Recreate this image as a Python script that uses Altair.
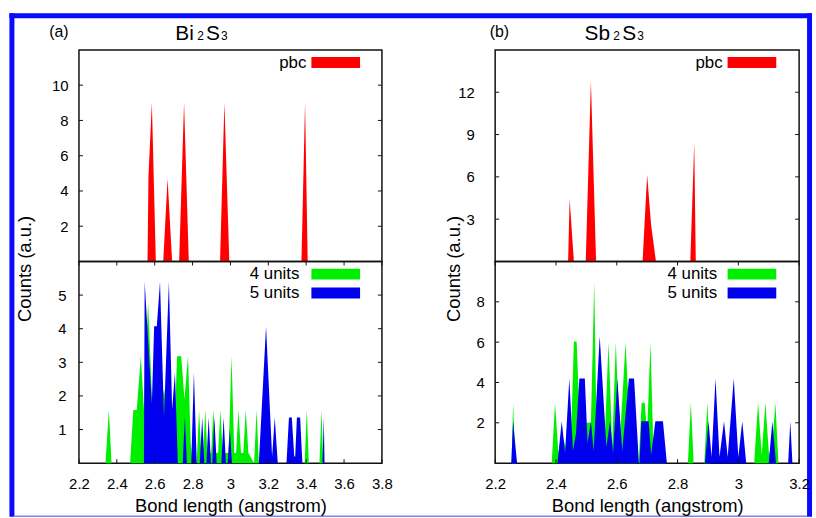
import altair as alt
import pandas as pd

# ---------------- data ----------------
# panel (a) Bi2S3, pbc (top)
pbc_a_x = [2.562, 2.567, 2.585, 2.606, 2.645, 2.668, 2.692, 2.729, 2.755, 2.780,
           2.945, 2.968, 2.994, 3.375, 3.394, 3.408]
pbc_a_y = [0, 4.8, 9.0, 0, 0, 4.7, 0, 0, 9.0, 0, 0, 9.0, 0, 0, 9.0, 0]

# panel (a) 4 units (green)
g_a_x = [2.340, 2.358, 2.372,
         2.470, 2.487, 2.505, 2.527, 2.543, 2.565, 2.586, 2.600, 2.620, 2.650, 2.665,
         2.690, 2.705, 2.718, 2.740, 2.757, 2.776, 2.790, 2.800,
         2.822, 2.834, 2.846, 2.856, 2.867, 2.878, 2.898, 2.910, 2.922,
         2.935, 2.947, 2.959, 2.990, 3.006, 3.020, 3.030, 3.042, 3.056,
         3.068, 3.081, 3.095, 3.125, 3.138, 3.150,
         3.392, 3.403, 3.414, 3.470, 3.481, 3.490]
g_a_y = [0, 1.58, 0,
         0, 1.58, 1.58, 3.18, 1.6, 4.78, 1.9, 2.5, 1.5, 2.2, 1.2,
         1.0, 1.0, 3.18, 3.18, 1.9, 3.18, 0.6, 0,
         0, 1.58, 0.3, 0.3, 1.58, 0.3, 0.3, 1.58, 0.3,
         0.3, 1.58, 0.3, 0.3, 3.18, 0.3, 0.3, 1.58, 0.3,
         0.3, 1.58, 0.3, 0, 1.58, 0,
         0, 1.58, 0, 0, 1.58, 0]

# panel (a) 5 units (blue)
b_a_x = [2.543, 2.547, 2.585, 2.597, 2.611, 2.628, 2.649, 2.675, 2.692, 2.707, 2.722,
         2.748, 2.759, 2.770, 2.793, 2.807, 2.822,
         2.838, 2.851, 2.862, 2.873, 2.885, 2.897, 2.904, 2.915, 2.927,
         2.952, 2.964, 2.976, 2.985, 2.997, 3.008,
         3.150, 3.188, 3.220, 3.234, 3.250,
         3.296, 3.309, 3.324, 3.337, 3.342, 3.351, 3.368, 3.380,
         3.486, 3.493, 3.497]
b_a_y = [0, 5.4, 1.76, 4.07, 4.07, 5.4, 1.37, 5.4, 1.6, 2.69, 0,
         0, 1.36, 0, 0, 2.69, 0,
         0, 1.36, 0, 0, 1.36, 0, 0, 1.36, 0,
         0, 1.36, 0, 0, 1.0, 0,
         0, 4.07, 0.2, 1.36, 0,
         0, 1.36, 1.36, 0.2, 0.2, 1.36, 1.36, 0,
         0, 1.36, 0]

# panel (b) Sb2S3, pbc (top)
pbc_b_x = [2.440, 2.445, 2.459, 2.498, 2.515, 2.532, 2.685, 2.700, 2.713, 2.729,
           2.842, 2.855, 2.860]
pbc_b_y = [0, 4.43, 0, 0, 12.8, 0, 0, 6.14, 2.6, 0, 0, 8.4, 0]

# panel (b) 4 units (green)
g_b_x = [2.254, 2.259, 2.266,
         2.386, 2.397, 2.408, 2.419, 2.432, 2.449, 2.459, 2.468, 2.476, 2.495, 2.515,
         2.526, 2.534, 2.548, 2.560, 2.573, 2.585, 2.597, 2.610, 2.629, 2.642, 2.660, 2.668,
         2.672, 2.682, 2.692, 2.700, 2.711, 2.720, 2.740, 2.760,
         2.834, 2.844, 2.853, 2.888, 2.898, 2.908,
         3.052, 3.065, 3.077, 3.089, 3.101, 3.112, 3.122, 3.132]
g_b_y = [0, 2.98, 0,
         0, 3.0, 0.5, 1.5, 0.8, 1.0, 6.03, 6.03, 3.0, 2.0, 2.0,
         9.0, 1.0, 2.0, 1.0, 6.0, 0.8, 6.0, 1.0, 6.0, 2.0, 1.5, 0,
         0, 3.0, 3.0, 1.5, 6.0, 1.0, 1.0, 0,
         0, 3.0, 0, 0, 3.0, 0,
         0, 3.0, 0.4, 3.0, 0.4, 1.0, 3.0, 0]

# panel (b) 5 units (blue)
b_b_x = [2.253, 2.259, 2.272,
         2.405, 2.419, 2.430, 2.444, 2.456, 2.466, 2.477, 2.495, 2.504, 2.515, 2.524,
         2.544, 2.566, 2.578, 2.588, 2.602, 2.618, 2.640, 2.657, 2.673,
         2.675, 2.681, 2.705, 2.713, 2.727, 2.752, 2.765,
         2.890, 2.902, 2.912, 2.925, 2.938, 2.953, 2.965, 2.985, 3.000, 3.013, 3.026,
         3.100, 3.112, 3.124, 3.164, 3.171, 3.178]
b_b_y = [0, 2.08, 0,
         0, 2.08, 0.5, 4.2, 0.6, 1.5, 4.2, 4.2, 1.0, 2.08, 0.6,
         6.29, 0.8, 2.08, 0.5, 4.2, 0.6, 4.2, 4.2, 0,
         0, 2.08, 2.08, 0.4, 2.08, 2.08, 0,
         0, 2.08, 0.3, 4.2, 0.3, 2.08, 0.3, 4.2, 0.3, 2.08, 0,
         0, 2.08, 0, 0, 2.08, 0]

# axes / ticks
x_ticks_a = [2.2, 2.4, 2.6, 2.8, 3.0, 3.2, 3.4, 3.6, 3.8]
x_ticks_b = [2.2, 2.4, 2.6, 2.8, 3.0, 3.2]
x_dom_a = [2.2, 3.8]
x_dom_b = [2.2, 3.2]
y_top_ticks_a = [2, 4, 6, 8, 10]
y_bot_ticks_a = [1, 2, 3, 4, 5]
y_top_ticks_b = [3, 6, 9, 12]
y_bot_ticks_b = [2, 4, 6, 8]
y_top_dom_a = [0, 12]
y_bot_dom_a = [0, 6]
y_top_dom_b = [0, 15]
y_bot_dom_b = [0, 10]

legend_top = ["pbc"]
legend_bot = ["4 units", "5 units"]
panel_tags = ["(a)", "(b)"]
compounds = [["Bi", "2", "S", "3"], ["Sb", "2", "S", "3"]]
x_title = "Bond length (angstrom)"
y_title = "Counts (a.u.)"

RED, GREEN, BLUE = "#ff0000", "#00ee00", "#0000ee"
FRAME = "#0a0aff"
FONT = "Liberation Sans"
W_A, W_B = 305, 306
H_TOP, H_BOT = 213, 203
TL = 4


def xy(xs, ys):
    return pd.DataFrame({"x": xs, "y": ys})


def one(text):
    return pd.DataFrame({"label": [text]})


def area(xs, ys, color, xsc, ysc, xaxis, yaxis):
    return alt.Chart(xy(xs, ys)).mark_area(
        color=color, interpolate="linear", orient="vertical", opacity=1
    ).encode(
        x=alt.X("x:Q", scale=xsc, axis=xaxis, title=None),
        y=alt.Y("y:Q", scale=ysc, axis=yaxis, stack=None, title=None),
    )


def tick_layers(xsc, ysc, xvals, yvals, W, H, xaxis, yaxis):
    out = []
    ydf = pd.DataFrame({"y": yvals})
    out.append(alt.Chart(ydf).mark_rule(color="#111", strokeWidth=1).encode(
        y=alt.Y("y:Q", scale=ysc, axis=yaxis, title=None), x=alt.value(0), x2=alt.value(TL)))
    out.append(alt.Chart(ydf).mark_rule(color="#111", strokeWidth=1).encode(
        y=alt.Y("y:Q", scale=ysc, axis=yaxis, title=None), x=alt.value(W), x2=alt.value(W - TL)))
    if xvals:
        xdf = pd.DataFrame({"x": xvals})
        out.append(alt.Chart(xdf).mark_rule(color="#111", strokeWidth=1).encode(
            x=alt.X("x:Q", scale=xsc, axis=xaxis, title=None), y=alt.value(H), y2=alt.value(H - TL)))
        out.append(alt.Chart(xdf).mark_rule(color="#111", strokeWidth=1).encode(
            x=alt.X("x:Q", scale=xsc, axis=xaxis, title=None), y=alt.value(0), y2=alt.value(TL)))
    return out


def legend(labels, colors, text_right):
    out = []
    for i, (lab, col) in enumerate(zip(labels, colors)):
        yc = 12.7 + 19 * i
        out.append(alt.Chart(one(lab)).mark_text(
            align="right", baseline="middle", font=FONT, fontSize=17, color="black"
        ).encode(text="label:N", x=alt.value(text_right), y=alt.value(yc)))
        out.append(alt.Chart(one(lab)).mark_rect(color=col).encode(
            x=alt.value(234), x2=alt.value(283), y=alt.value(yc - 5.5), y2=alt.value(yc + 5.5)))
    return out


def heading(tag, comp, tag_x, comp_xs):
    out = [alt.Chart(one(tag)).mark_text(
        align="left", baseline="alphabetic", font=FONT, fontSize=16, color="black"
    ).encode(text="label:N", x=alt.value(tag_x), y=alt.value(-13.5))]
    sizes = [21, 12, 21, 12]
    for part, px, fs in zip(comp, comp_xs, sizes):
        out.append(alt.Chart(one(part)).mark_text(
            align="left", baseline="alphabetic", font=FONT, fontSize=fs, color="black"
        ).encode(text="label:N", x=alt.value(px), y=alt.value(-9.5)))
    return out


def frame_layers():
    # blue border around the whole figure, drawn from the top-left panel
    d = one("frame")
    top = alt.Chart(d).mark_rule(color=FRAME, strokeWidth=5).encode(
        x=alt.value(-70), x2=alt.value(738), y=alt.value(-34.5))
    left = alt.Chart(d).mark_rule(color=FRAME, strokeWidth=5).encode(
        x=alt.value(-67.5), y=alt.value(-37), y2=alt.value(470))
    right = alt.Chart(d).mark_rule(color=FRAME, strokeWidth=5).encode(
        x=alt.value(735.5), y=alt.value(-37), y2=alt.value(470))
    bottom = alt.Chart(d).mark_rule(color="#7f7fff", strokeWidth=1.5).encode(
        x=alt.value(-65), x2=alt.value(733), y=alt.value(469.5))
    return [top, left, right, bottom]


def ylab_axis(vals, pad):
    return alt.Axis(values=vals, title=None, domain=False, ticks=False, grid=False,
                    labelPadding=pad, labelFontSize=15, labelFont=FONT, labelColor="black")


def xbot_axis(vals):
    return alt.Axis(values=vals, format="~g", title=x_title, domain=False, ticks=False,
                    grid=False, labelPadding=14, labelFontSize=15, labelFlush=False,
                    labelFont=FONT, labelColor="black", titleFont=FONT, titleFontSize=18.5,
                    titleFontWeight="normal", titleColor="black", titleY=49,
                    titleBaseline="alphabetic")


def ybot_axis(vals, pad, tx):
    return alt.Axis(values=vals, title=y_title, domain=False, ticks=False, grid=False,
                    labelPadding=pad, labelFontSize=15, labelFont=FONT, labelColor="black",
                    titleFont=FONT, titleFontSize=18.5, titleFontWeight="normal",
                    titleColor="black", titleX=tx, titleY=7, titleAngle=270,
                    titleAlign="center", titleBaseline="alphabetic")


xs_a = alt.Scale(domain=x_dom_a, nice=False, zero=False)
xs_b = alt.Scale(domain=x_dom_b, nice=False, zero=False)

# ---------------- panel (a) ----------------
ys = alt.Scale(domain=y_top_dom_a, nice=False, zero=True)
ya = ylab_axis(y_top_ticks_a, 11)
a_top = alt.layer(
    area(pbc_a_x, pbc_a_y, RED, xs_a, ys, None, ya),
    *tick_layers(xs_a, ys, None, y_top_ticks_a, W_A, H_TOP, None, ya),
    *legend(legend_top, [RED], 229),
    *heading(panel_tags[0], compounds[0], -30, [97, 119, 128, 143]),
    *frame_layers(),
).properties(width=W_A, height=H_TOP)

ys = alt.Scale(domain=y_bot_dom_a, nice=False, zero=True)
xa, ya = xbot_axis(x_ticks_a), ybot_axis(y_bot_ticks_a, 13, -49)
a_bot = alt.layer(
    area(g_a_x, g_a_y, GREEN, xs_a, ys, xa, ya),
    area(b_a_x, b_a_y, BLUE, xs_a, ys, xa, ya),
    *tick_layers(xs_a, ys, x_ticks_a, y_bot_ticks_a, W_A, H_BOT, xa, ya),
    *legend(legend_bot, [GREEN, BLUE], 222),
).properties(width=W_A, height=H_BOT)

# ---------------- panel (b) ----------------
ys = alt.Scale(domain=y_top_dom_b, nice=False, zero=True)
ya = ylab_axis(y_top_ticks_b, 21)
b_top = alt.layer(
    area(pbc_b_x, pbc_b_y, RED, xs_b, ys, None, ya),
    *tick_layers(xs_b, ys, None, y_top_ticks_b, W_B, H_TOP, None, ya),
    *legend(legend_top, [RED], 229),
    *heading(panel_tags[1], compounds[1], -5.5, [90, 119, 128, 143]),
).properties(width=W_B, height=H_TOP)

ys = alt.Scale(domain=y_bot_dom_b, nice=False, zero=True)
xa, ya = xbot_axis(x_ticks_b), ybot_axis(y_bot_ticks_b, 11, -36)
b_bot = alt.layer(
    area(g_b_x, g_b_y, GREEN, xs_b, ys, xa, ya),
    area(b_b_x, b_b_y, BLUE, xs_b, ys, xa, ya),
    *tick_layers(xs_b, ys, x_ticks_b, y_bot_ticks_b, W_B, H_BOT, xa, ya),
    *legend(legend_bot, [GREEN, BLUE], 223.5),
).properties(width=W_B, height=H_BOT)

# the frame's bounding box is padded by half its stroke width, hence the smaller padding
chart = alt.concat(
    a_top, b_top, a_bot, b_bot, columns=2,
    spacing={"row": 0, "column": 114}, bounds="flush",
).properties(
    padding={"left": 5.5, "top": 7.5, "right": 0, "bottom": 0}, background="white"
).configure_view(stroke="#111", strokeWidth=1.5)

chart.save("out.html", embed_options={"renderer": "svg", "actions": False})
